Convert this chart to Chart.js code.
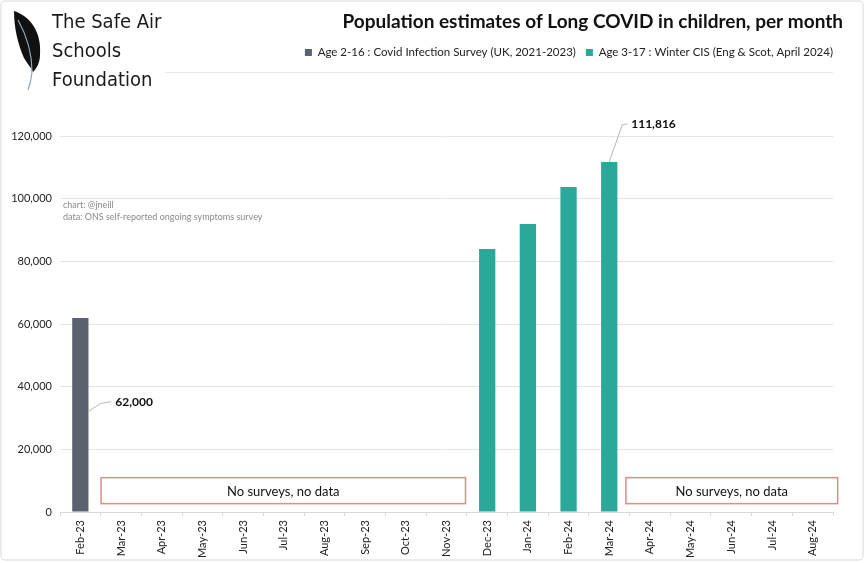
<!DOCTYPE html>
<html>
<head>
<meta charset="utf-8">
<script src="https://cdn.jsdelivr.net/npm/chart.js@4"></script>
<style>
  html, body { margin: 0; padding: 0; background: #fff; }
  #wrap { width: 867px; height: 563px; }
</style>
</head>
<body>
<div id="wrap"><canvas id="long_covid"></canvas></div>
<script>
// data
let months = ["Feb-23","Mar-23","Apr-23","May-23","Jun-23","Jul-23","Aug-23","Sep-23","Oct-23","Nov-23",
              "Dec-23","Jan-24","Feb-24","Mar-24","Apr-24","May-24","Jun-24","Jul-24","Aug-24"];
let cis_2_16 = [62000, null, null, null, null, null, null, null, null, null,
                null, null, null, null, null, null, null, null, null];
let winter_cis_3_17 = [null, null, null, null, null, null, null, null, null, null,
                       84000, 92000, 103800, 111816, null, null, null, null, null];
let y_ticks = [0, 20000, 40000, 60000, 80000, 100000, 120000];
let callouts = [{ set: 0, index: 0, text: "62,000" }, { set: 1, index: 13, text: "111,816" }];
let gaps = [{ from: 1, to: 9 }, { from: 14, to: 18 }];

const FONT = "Lato, 'Open Sans', sans-serif";

// logo, frame, notes, callouts, "no data" boxes
const decor = {
  id: "decor",
  beforeInit(chart) {
    // leave room between the legend and the plot
    const fit = chart.legend.fit;
    chart.legend.fit = function () { fit.call(this); this.height += 68; };
  },
  beforeDraw(chart) {
    const c = chart.ctx;
    c.save();
    c.fillStyle = "#fff";
    c.fillRect(0, 0, chart.width, chart.height);
    c.strokeStyle = "#e6e6e6";
    c.lineWidth = 1.5;
    c.beginPath();
    c.roundRect(1, 1, 862, 559, 4);
    c.stroke();
    c.strokeStyle = "#e8e8e8";
    c.lineWidth = 1;
    c.beginPath();
    c.moveTo(165, 72.5);
    c.lineTo(833, 72.5);
    c.stroke();

    // feather
    c.fillStyle = "#111";
    c.beginPath();
    c.moveTo(14, 11);
    c.bezierCurveTo(30, 16, 42, 32, 40, 55);
    c.bezierCurveTo(40, 62, 37, 68, 33, 72);
    c.bezierCurveTo(30, 66, 26, 62, 24, 58);
    c.bezierCurveTo(18, 44, 14, 28, 14, 11);
    c.fill();
    c.strokeStyle = "#8fa6b8";
    c.lineWidth = 1.2;
    c.beginPath();
    c.moveTo(18, 20);
    c.quadraticCurveTo(32, 45, 32, 72);
    c.quadraticCurveTo(31, 82, 28, 90);
    c.stroke();

    c.fillStyle = "#1a1a1a";
    c.font = "20px 'DejaVu Sans Condensed', 'DejaVu Sans', sans-serif";
    c.textBaseline = "middle";
    c.fillText("The Safe Air", 52, 23);
    c.fillText("Schools", 52, 52);
    c.fillText("Foundation", 52, 81);

    c.fillStyle = "#8a8a8a";
    c.font = "9px " + FONT;
    c.fillText("chart: @jneill", 63, 205);
    c.fillText("data: ONS self-reported ongoing symptoms survey", 63, 217);
    c.restore();
  },
  afterDatasetsDraw(chart) {
    const c = chart.ctx, x = chart.scales.x, y = chart.scales.y;
    c.save();
    gaps.forEach((g, i) => {
      const left = x.getPixelForValue(g.from) - (i === 0 ? 20 : 24);
      const right = x.getPixelForValue(g.to) + (i === 0 ? 19 : 25);
      const top = y.getPixelForValue(11000), bot = y.getPixelForValue(2700);
      c.fillStyle = "#fff";
      c.fillRect(left, top, right - left, bot - top);
      c.strokeStyle = "#e08a8a";
      c.lineWidth = 1.5;
      c.strokeRect(left, top, right - left, bot - top);
      c.fillStyle = "#111";
      c.font = "13px " + FONT;
      c.textAlign = "center";
      c.textBaseline = "middle";
      c.fillText("No surveys, no data", (left + right) / 2, (top + bot) / 2 + 1);
    });
    callouts.forEach(o => {
      const bar = chart.getDatasetMeta(o.set).data[o.index];
      c.strokeStyle = "#b8b8b8";
      c.lineWidth = 1;
      c.beginPath();
      let tx, ty;
      if (o.set === 0) {
        c.moveTo(bar.x + 8, bar.base - 100);
        c.lineTo(bar.x + 20, bar.base - 108);
        c.lineTo(bar.x + 31, bar.base - 110);
        tx = bar.x + 35; ty = bar.base - 109;
      } else {
        c.moveTo(bar.x, bar.y);
        c.lineTo(bar.x + 13, bar.y - 37);
        c.lineTo(bar.x + 18, bar.y - 38);
        tx = bar.x + 22; ty = bar.y - 38;
      }
      c.stroke();
      c.fillStyle = "#111";
      c.font = "bold 12px " + FONT;
      c.textAlign = "left";
      c.textBaseline = "middle";
      c.fillText(o.text, tx, ty);
    });
    c.restore();
  }
};

let chart = document.querySelector("#long_covid");
new Chart(chart, {
  type: "bar",
  data: {
    labels: months,
    datasets: [
      { label: "Age 2-16 : Covid Infection Survey (UK, 2021-2023)", data: cis_2_16, backgroundColor: "#5a6270" },
      { label: "Age 3-17 : Winter CIS (Eng & Scot, April 2024)", data: winter_cis_3_17, backgroundColor: "#2aa89a" }
    ]
  },
  options: {
    responsive: true,
    maintainAspectRatio: false,
    animation: false,
    devicePixelRatio: 1,
    grouped: false,
    categoryPercentage: 1,
    barPercentage: 0.4,
    layout: { padding: { left: 6, right: 24, top: 4, bottom: 1 } },
    plugins: {
      tooltip: { enabled: false },
      title: {
        display: true,
        text: "Population estimates of Long COVID in children, per month",
        align: "end",
        color: "#111",
        font: { family: FONT, size: 19, weight: "bold" },
        padding: { top: 6, bottom: 4 }
      },
      legend: {
        align: "end",
        labels: {
          boxWidth: 7, boxHeight: 7, padding: 10, color: "#222",
          font: { family: FONT, size: 11.5 }
        }
      }
    },
    scales: {
      x: {
        grid: { drawOnChartArea: false, drawTicks: true, tickLength: 4, color: "#d8d8d8" },
        border: { color: "#d8d8d8" },
        ticks: {
          color: "#222", minRotation: 90, maxRotation: 90, autoSkip: false, padding: 4,
          font: { family: FONT, size: 11 }
        }
      },
      y: {
        min: 0, max: 120000,
        afterBuildTicks: ax => { ax.ticks = y_ticks.map(v => ({ value: v })); },
        afterFit: ax => { ax.width = 54; },
        grid: { color: "#e4e4e4", drawTicks: false },
        border: { display: false },
        ticks: {
          color: "#222", padding: 8,
          font: { family: FONT, size: 11 },
          callback: v => v.toLocaleString("en-GB")
        }
      },
      yr: {
        position: "right",
        afterFit: ax => { ax.width = 10; },
        grid: { display: false },
        border: { display: false },
        ticks: { display: false }
      }
    }
  },
  plugins: [decor]
});
</script>
</body>
</html>
